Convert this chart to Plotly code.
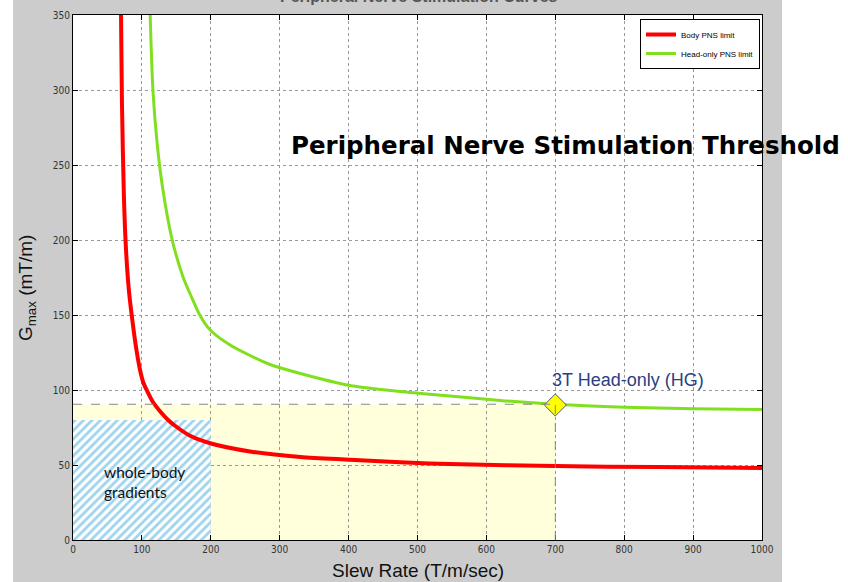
import plotly.graph_objects as go

# ---- data ----
body_slew = [69.7, 71, 74, 77, 81, 86, 92, 97, 102, 108, 116, 126, 138, 150, 170, 199, 257, 330, 402, 475, 547, 700, 850, 1000]
body_gmax = [350, 293, 227, 193, 167, 147, 127, 114, 105, 99, 92, 86, 80, 75.5, 69.5, 64.5, 59, 55.3, 53.5, 51.8, 50.6, 49.3, 48.6, 48]

head_slew = [112, 116, 122, 130, 144, 160, 172, 184, 199, 228, 257, 286, 330, 402, 475, 547, 620, 700, 800, 900, 1000]
head_gmax = [350, 300, 265, 235, 200, 175, 162, 150, 140, 130, 123, 117, 111, 103, 99, 96, 93, 90.5, 88.5, 87.5, 87]

hg_point_slew = [700]
hg_point_gmax = [90]

wb_slew_max = 200
wb_gmax_max = 80
hg_slew_max = 700
hg_gmax_max = 90.5

x_ticks = [0, 100, 200, 300, 400, 500, 600, 700, 800, 900, 1000]
y_ticks = [0, 50, 100, 150, 200, 250, 300, 350]

fig = go.Figure()

# whole-body hatched region
fig.add_trace(go.Scatter(
    x=[0, wb_slew_max, wb_slew_max, 0, 0], y=[0, 0, wb_gmax_max, wb_gmax_max, 0],
    mode="lines", line=dict(width=0), fill="toself", fillcolor="white",
    fillpattern=dict(shape="/", fgcolor="#3aa7dc", bgcolor="white", size=6, solidity=0.45),
    showlegend=False, hoverinfo="skip"))

fig.add_trace(go.Scatter(x=body_slew, y=body_gmax, mode="lines", name="Body PNS limit",
                         line=dict(color="#ff0000", width=4, shape="spline", smoothing=0.8)))
fig.add_trace(go.Scatter(x=head_slew, y=head_gmax, mode="lines", name="Head-only PNS limit",
                         line=dict(color="#80e01f", width=3, shape="spline", smoothing=0.8)))
fig.add_trace(go.Scatter(x=hg_point_slew, y=hg_point_gmax, mode="markers", showlegend=False,
                         marker=dict(symbol="diamond", size=17, color="#ffff00",
                                     line=dict(color="#4a5a80", width=1))))

# gray window background, then white plot area on top of it
fig.add_shape(type="rect", xref="paper", yref="paper",
              x0=(13 - 73) / 689, x1=(782 - 73) / 689, y0=-0.2, y1=(540 - 0) / 525,
              fillcolor="#cccccc", line=dict(width=0), layer="below")
fig.add_shape(type="rect", xref="paper", yref="paper", x0=0, x1=1, y0=0, y1=1,
              fillcolor="white", line=dict(width=0), layer="below")
# yellow HG region
fig.add_shape(type="rect", x0=0, x1=hg_slew_max, y0=0, y1=hg_gmax_max,
              fillcolor="#ffffdc", line=dict(width=0), layer="below")
fig.add_shape(type="line", x0=0, x1=hg_slew_max, y0=hg_gmax_max, y1=hg_gmax_max,
              line=dict(color="#888888", width=1, dash="dash"))
fig.add_shape(type="line", x0=hg_slew_max, x1=hg_slew_max, y0=0, y1=hg_gmax_max,
              line=dict(color="#888888", width=1, dash="dash"))

axis_common = dict(showline=True, linecolor="black", linewidth=1, mirror="ticks",
                   ticks="inside", ticklen=5, tickcolor="black",
                   showgrid=True, gridcolor="#999999", griddash="dot", gridwidth=1,
                   zeroline=False,
                   tickfont=dict(family="DejaVu Sans Condensed", size=10, color="#333333"))

fig.update_xaxes(range=[0, 1000], tickvals=x_ticks, **axis_common)
fig.update_yaxes(range=[0, 350], tickvals=y_ticks, **axis_common)

fig.add_annotation(text="<b>Peripheral Nerve Stimulation Threshold</b>", xref="paper", yref="paper",
                   x=(565 - 73) / 689, y=(540 - 145) / 525, xanchor="center", yanchor="middle",
                   showarrow=False,
                   font=dict(family="Comic Sans MS, DejaVu Sans", size=24.5, color="black"))
fig.add_annotation(text="3T Head-only (HG)", x=hg_point_slew[0] + 105, y=hg_point_gmax[0] + 17,
                   xanchor="center", yanchor="middle", showarrow=False,
                   font=dict(family="Liberation Sans, Arial", size=18, color="#2a3f7f"))
fig.add_annotation(text="whole-body<br>gradients", x=42, y=39, xanchor="left", yanchor="middle",
                   align="left", showarrow=False,
                   font=dict(family="Lato", size=15.5, color="#111111"))
fig.add_annotation(text="Slew Rate (T/m/sec)", xref="paper", yref="paper",
                   x=(418 - 73) / 689, y=(540 - 570) / 525, xanchor="center", yanchor="middle",
                   showarrow=False,
                   font=dict(family="Liberation Sans, Arial", size=19, color="#111111"))
fig.add_annotation(text="G<sub>max</sub> (mT/m)", xref="paper", yref="paper", textangle=-90,
                   x=(27 - 73) / 689, y=(540 - 288) / 525, xanchor="center", yanchor="middle",
                   showarrow=False,
                   font=dict(family="Liberation Sans, Arial", size=19, color="#111111"))
fig.add_annotation(text="<b>Peripheral Nerve Stimulation Curves</b>", xref="paper", yref="paper",
                   x=(419 - 73) / 689, y=(540 - 7) / 525, xanchor="center", yanchor="bottom",
                   showarrow=False,
                   font=dict(family="Liberation Sans, Arial", size=16, color="#555555"))

fig.update_layout(
    width=848, height=582,
    margin=dict(l=73, r=86, t=15, b=42, autoexpand=False),
    paper_bgcolor="white", plot_bgcolor="white",
    legend=dict(x=(760 - 73) / 689, y=(540 - 19) / 525, xanchor="right", yanchor="top",
                bgcolor="white", bordercolor="black", borderwidth=1,
                font=dict(family="Liberation Sans, Arial", size=8, color="black"),
                itemwidth=30, tracegroupgap=0),
    showlegend=True,
)

fig.write_html("out.html")
